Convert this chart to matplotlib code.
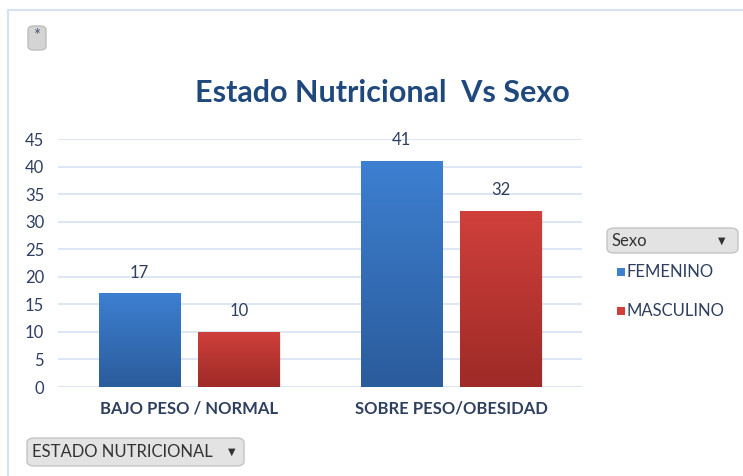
import numpy as np
import matplotlib
matplotlib.use("Agg")
import matplotlib.pyplot as plt
from matplotlib.patches import Rectangle, FancyBboxPatch
from matplotlib.colors import LinearSegmentedColormap

# ── Data ───────────────────────────────────────────────────────────
categories = ["BAJO PESO / NORMAL", "SOBRE PESO/OBESIDAD"]
femenino = [17, 41]
masculino = [10, 32]
series_names = ["FEMENINO", "MASCULINO"]
yticks = [0, 5, 10, 15, 20, 25, 30, 35, 40, 45]

plt.rcParams['font.family'] = ['Lato', 'DejaVu Sans']

text_col = "#2f3f5f"
grid_col = "#d6e2f2"
blue_top, blue_bot = "#3d7fd1", "#2b5c9c"
red_top, red_bot = "#d0403b", "#9e2a27"

fig = plt.figure(figsize=(7.43, 4.76), dpi=100)

# outer chart frame
fig.patches.append(Rectangle((8 / 743, -0.01), 1.0, 1 - 10 / 476 + 0.01,
                             transform=fig.transFigure, fill=False,
                             edgecolor="#d3e1f3", linewidth=1.5))

ax = fig.add_axes([58 / 743, 1 - 387 / 476, (582 - 58) / 743, (387 - 139) / 476])
x = np.arange(len(categories))
w = 0.31
off = 0.19


def gradient_bars(bars, top, bot):
    cmap = LinearSegmentedColormap.from_list("g", [bot, top])
    grad = np.linspace(0, 1, 256).reshape(-1, 1)
    for b in bars:
        x0, y0 = b.get_x(), b.get_y()
        bw, bh = b.get_width(), b.get_height()
        im = ax.imshow(grad, cmap=cmap, aspect="auto", origin="lower",
                       extent=(x0, x0 + bw, y0, y0 + bh), zorder=3)
        im.set_clip_path(b)
        ax.add_patch(Rectangle((x0 + 0.006, y0 - 0.25), bw, bh,
                               facecolor="#000000", alpha=0.08,
                               edgecolor="none", zorder=2))


bars_f = ax.bar(x - off, femenino, w, color=blue_top, edgecolor="none", zorder=3)
bars_m = ax.bar(x + off, masculino, w, color=red_top, edgecolor="none", zorder=3)
gradient_bars(bars_f, blue_top, blue_bot)
gradient_bars(bars_m, red_top, red_bot)

for bars, vals in ((bars_f, femenino), (bars_m, masculino)):
    for b, v in zip(bars, vals):
        ax.text(b.get_x() + b.get_width() / 2, v + 2.3, str(v),
                ha="center", va="bottom", fontsize=12, color=text_col)

ax.set_xlim(-0.5, len(categories) - 0.5)
ax.set_ylim(0, 45)
ax.set_yticks(yticks)
ax.set_yticklabels([str(t) for t in yticks], fontsize=12, color=text_col)
ax.set_xticks(x)
ax.set_xticklabels(categories, fontsize=12, fontweight="bold", color=text_col)
ax.tick_params(axis="both", length=0)
ax.tick_params(axis="y", pad=10)
ax.tick_params(axis="x", pad=10)
ax.yaxis.grid(True, color=grid_col, linewidth=1.2)
ax.set_axisbelow(True)
for s in ax.spines.values():
    s.set_visible(False)
ax.set_facecolor("none")

fig.text(382 / 743, 1 - 93 / 476, "Estado Nutricional  Vs Sexo", ha="center",
         va="center", fontsize=22, fontweight="bold", color="#1f497d")

# small "*" button top-left
fig.patches.append(FancyBboxPatch((28 / 743, 1 - 50 / 476), 18 / 743, 24 / 476,
                                  boxstyle="round,pad=0,rounding_size=0.008",
                                  transform=fig.transFigure,
                                  facecolor="#d4d4d4", edgecolor="#bdbdbd", linewidth=1))
fig.text(37 / 743, 1 - 36 / 476, "*", ha="center", va="center", fontsize=12,
         color="#4a5a7a")

# legend dropdown "Sexo"
fig.patches.append(FancyBboxPatch((607 / 743, 1 - 253 / 476), 131 / 743, 25 / 476,
                                  boxstyle="round,pad=0,rounding_size=0.01",
                                  transform=fig.transFigure,
                                  facecolor="#e3e3e3", edgecolor="#c4c4c4", linewidth=1))
fig.text(612 / 743, 1 - 241 / 476, "Sexo", ha="left", va="center",
         fontsize=12, color="#333333")
fig.text(722 / 743, 1 - 241 / 476, "▼", ha="center", va="center",
         fontsize=7, color="#333333", family="DejaVu Sans")

for name, col, yy in ((series_names[0], blue_top, 272), (series_names[1], red_top, 311)):
    fig.patches.append(Rectangle((617 / 743, 1 - (yy + 4) / 476), 8 / 743, 8 / 476,
                                 transform=fig.transFigure, facecolor=col,
                                 edgecolor="none"))
    fig.text(627 / 743, 1 - yy / 476, name, ha="left", va="center",
             fontsize=12, color=text_col)

# bottom dropdown
fig.patches.append(FancyBboxPatch((27 / 743, 1 - 466 / 476), 217 / 743, 28 / 476,
                                  boxstyle="round,pad=0,rounding_size=0.01",
                                  transform=fig.transFigure,
                                  facecolor="#e3e3e3", edgecolor="#c4c4c4", linewidth=1))
fig.text(32 / 743, 1 - 452 / 476, "ESTADO NUTRICIONAL", ha="left", va="center",
         fontsize=12, color="#333333")
fig.text(232 / 743, 1 - 452 / 476, "▼", ha="center", va="center",
         fontsize=7, color="#333333", family="DejaVu Sans")

fig.savefig("out.png", dpi=100)
